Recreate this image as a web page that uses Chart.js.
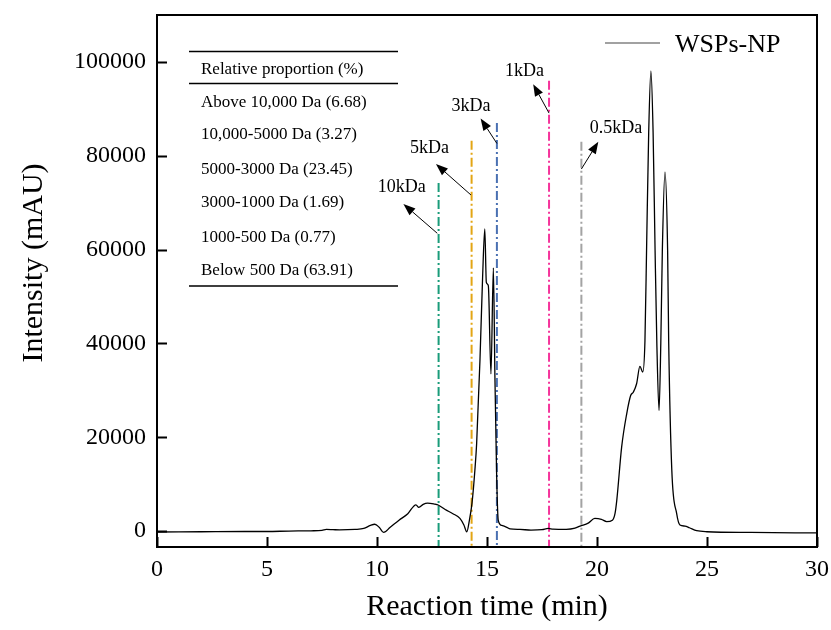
<!DOCTYPE html>
<html>
<head>
<meta charset="UTF-8">
<title>WSPs-NP</title>
<script src="https://cdn.jsdelivr.net/npm/chart.js@4.4.1/dist/chart.umd.min.js"></script>
<style>
  html, body { margin: 0; padding: 0; background: #fff; }
  #wrap { width: 831px; height: 630px; }
</style>
</head>
<body>
<div id="wrap"><canvas id="myChart" width="831" height="630"></canvas></div>
<script>
// chromatogram (min, mAU)
var time = [0, 2, 4, 5, 6, 7, 7.5, 7.7, 8.0, 8.3, 9.0, 9.4, 9.7, 9.9, 10.1, 10.3, 10.6, 11.0, 11.4, 11.77,
    11.9, 12.1, 12.3, 12.6, 12.8, 13.1, 13.45, 13.77, 13.95, 14.08, 14.2, 14.32, 14.45, 14.53, 14.68, 14.8,
    14.9, 14.97, 15.06, 15.18, 15.29, 15.36, 15.44, 15.51, 15.67, 15.9, 16.05, 16.5, 17.0, 17.5, 17.79, 18.0,
    18.6, 19.0, 19.23, 19.6, 19.9, 20.2, 20.44, 20.7, 20.82, 20.9, 21.12, 21.35, 21.53, 21.65, 21.8, 21.95,
    22.08, 22.18, 22.26, 22.35, 22.45, 22.55, 22.64, 22.72, 22.82, 22.9, 22.97, 23.09, 23.21, 23.26, 23.4,
    23.62, 23.77, 24.0, 24.2, 24.53, 25, 27, 30];
var intensity = [-200, -150, -100, -100, 0, 50, 150, 350, 300, 250, 350, 550, 1200, 1450, 800, -300, 800, 2300, 3700, 5600,
    5050, 5700, 5950, 5750, 5500, 4600, 3700, 2700, 1300, -150, 2300, 6000, 13000, 18700, 36400, 54100,
    64400, 53000, 52300, 33500, 56100, 32800, 11500, 2340, 1200, 800, 450, 350, 200, 300, 550, 400,
    350, 600, 1060, 1700, 2700, 2500, 2000, 2300, 3760, 6600, 17900, 25000, 28900, 29600, 31400, 35100,
    33900, 40600, 61900, 85000, 98100, 85000, 59800, 40000, 25700, 40000, 59800, 76500, 59800, 40000, 13000,
    3760, 1280, 1060, 700, 70, -150, -300, -400];

// molecular weight markers
var markerLabels = ['10kDa', '5kDa', '3kDa', '1kDa', '0.5kDa'];
var markerTimes = [12.8, 14.3, 15.45, 17.82, 19.29];
var markerTops = [74200, 83200, 87000, 96000, 83000];

// table text
var tableHeader = 'Relative proportion (%)';
var tableRows = ['Above 10,000 Da (6.68)', '10,000-5000 Da (3.27)', '5000-3000 Da (23.45)',
    '3000-1000 Da (1.69)', '1000-500 Da (0.77)', 'Below 500 Da (63.91)'];

var xTicks = [0, 5, 10, 15, 20, 25, 30];
var yTicks = [0, 20000, 40000, 60000, 80000, 100000];
var yMin = -3400, yMax = 110000;

// styling / annotation placement
var markerColors = ['#1a9c7a', '#e3a514', '#4a70b2', '#f5339b', '#a3a3a3'];
var arrowTail = [[12.74, 63470], [14.27, 71640], [15.45, 82620], [17.82, 89090], [19.29, 77170]];
var arrowHead = [[11.2, 69720], [12.68, 78230], [14.71, 87940], [17.1, 95260], [20.06, 82980]];
var labelPos = [[11.12, 73260], [12.39, 81550], [14.27, 90490], [16.7, 98100], [20.86, 85810]];
var serif = '"Liberation Serif", "Times New Roman", serif';

var series = [];
for (var i = 0; i < time.length; i++) {
    series.push({x: time[i], y: intensity[i]});
}

var datasets = [{
    data: series,
    borderColor: '#000',
    borderWidth: 1.3,
    pointRadius: 0,
    cubicInterpolationMode: 'monotone',
    order: 0
}];
for (var m = 0; m < markerTimes.length; m++) {
    datasets.push({
        data: [{x: markerTimes[m], y: markerTops[m]}, {x: markerTimes[m], y: yMin}],
        borderColor: markerColors[m],
        borderWidth: 2,
        borderDash: [9, 3, 2, 3],
        pointRadius: 0,
        order: 1
    });
}

function arrow(ctx, x1, y1, x2, y2) {
    var ang = Math.atan2(y2 - y1, x2 - x1);
    var len = 12, w = 4.5;
    var bx = x2 - len * Math.cos(ang), by = y2 - len * Math.sin(ang);
    ctx.beginPath();
    ctx.moveTo(x1, y1);
    ctx.lineTo(bx, by);
    ctx.stroke();
    ctx.beginPath();
    ctx.moveTo(x2, y2);
    ctx.lineTo(bx + w * Math.sin(ang), by - w * Math.cos(ang));
    ctx.lineTo(bx - w * Math.sin(ang), by + w * Math.cos(ang));
    ctx.closePath();
    ctx.fill();
}

var decor = {
    id: 'decor',
    afterDraw: function (chart) {
        var ctx = chart.ctx, a = chart.chartArea;
        var xs = chart.scales.x, ys = chart.scales.y;
        ctx.save();
        // frame
        ctx.strokeStyle = '#000';
        ctx.lineWidth = 2;
        ctx.strokeRect(a.left, a.top, a.right - a.left, a.bottom - a.top);
        // inward ticks
        ctx.beginPath();
        xTicks.forEach(function (t) {
            var px = Math.round(xs.getPixelForValue(t)) + 0.5;
            ctx.moveTo(px, a.bottom);
            ctx.lineTo(px, a.bottom - 10);
        });
        yTicks.forEach(function (v) {
            var py = Math.round(ys.getPixelForValue(v)) + 0.5;
            ctx.moveTo(a.left, py);
            ctx.lineTo(a.left + 10, py);
        });
        ctx.stroke();

        // y axis title (sits a little above centre in the original)
        ctx.save();
        ctx.fillStyle = '#000';
        ctx.font = '30px ' + serif;
        ctx.textAlign = 'center';
        ctx.textBaseline = 'middle';
        ctx.translate(a.left - 123, a.top + 248);
        ctx.rotate(-Math.PI / 2);
        ctx.fillText('Intensity (mAU)', 0, 0);
        ctx.restore();

        // arrows and marker labels
        ctx.lineWidth = 1;
        ctx.fillStyle = '#000';
        ctx.font = '18px ' + serif;
        ctx.textAlign = 'center';
        ctx.textBaseline = 'middle';
        for (var k = 0; k < markerLabels.length; k++) {
            arrow(ctx, xs.getPixelForValue(arrowTail[k][0]), ys.getPixelForValue(arrowTail[k][1]),
                xs.getPixelForValue(arrowHead[k][0]), ys.getPixelForValue(arrowHead[k][1]));
            ctx.fillText(markerLabels[k], xs.getPixelForValue(labelPos[k][0]), ys.getPixelForValue(labelPos[k][1]));
        }

        // table
        var tl = a.left + 32, tr = a.left + 241;
        ctx.lineWidth = 1.3;
        ctx.beginPath();
        [a.top + 36.5, a.top + 68.5, a.top + 271].forEach(function (y) {
            ctx.moveTo(tl, y);
            ctx.lineTo(tr, y);
        });
        ctx.stroke();
        ctx.font = '17px ' + serif;
        ctx.textAlign = 'left';
        ctx.fillText(tableHeader, a.left + 44, a.top + 55);
        var rowY = [88, 120, 155, 188, 223, 256];
        tableRows.forEach(function (r, j) {
            ctx.fillText(r, a.left + 44, a.top + rowY[j]);
        });

        // legend
        ctx.strokeStyle = '#444';
        ctx.lineWidth = 1.2;
        ctx.beginPath();
        ctx.moveTo(a.left + 448, a.top + 28);
        ctx.lineTo(a.left + 503, a.top + 28);
        ctx.stroke();
        ctx.font = '26px ' + serif;
        ctx.fillText('WSPs-NP', a.left + 518, a.top + 30);
        ctx.restore();
    }
};

var ctx = document.getElementById('myChart');
var myChart = new Chart(ctx, {
    type: 'line',
    data: {datasets: datasets},
    options: {
        responsive: false,
        animation: false,
        maintainAspectRatio: false,
        layout: {padding: {top: 15, right: 14, left: 0, bottom: 0}},
        plugins: {legend: {display: false}, tooltip: {enabled: false}},
        scales: {
            x: {
                type: 'linear',
                min: 0,
                max: 30,
                grid: {display: false, drawTicks: false},
                border: {display: false},
                afterBuildTicks: function (s) { s.ticks = xTicks.map(function (v) { return {value: v}; }); },
                afterFit: function (s) { s.height = 83; s.paddingLeft = 0; s.paddingRight = 0; },
                ticks: {color: '#000', padding: 8, maxRotation: 0, font: {family: serif, size: 24}},
                title: {display: true, text: 'Reaction time (min)', color: '#000',
                    font: {family: serif, size: 30}, padding: {top: 0, bottom: 5}}
            },
            y: {
                min: yMin,
                max: yMax,
                grid: {display: false, drawTicks: false},
                border: {display: false},
                afterBuildTicks: function (s) { s.ticks = yTicks.map(function (v) { return {value: v}; }); },
                afterFit: function (s) { s.width = 157; s.paddingTop = 0; s.paddingBottom = 0; },
                ticks: {color: '#000', padding: 11, font: {family: serif, size: 24},
                    callback: function (v) { return String(v); }}
            }
        }
    },
    plugins: [decor]
});
</script>
</body>
</html>
